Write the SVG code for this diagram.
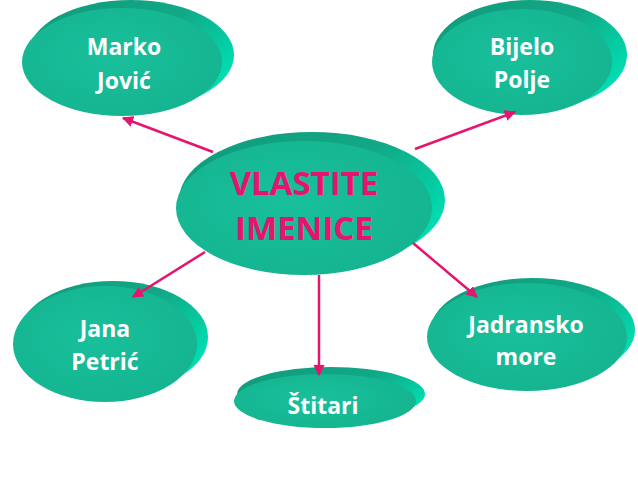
<svg xmlns="http://www.w3.org/2000/svg" width="638" height="479" viewBox="0 0 638 479">
<defs>
<linearGradient id="rimG" x1="0" y1="0" x2="1" y2="0.6">
<stop offset="0" stop-color="#0f9a7b"/>
<stop offset="0.6" stop-color="#12a886"/>
<stop offset="1" stop-color="#00dcb0"/>
</linearGradient>
<radialGradient id="faceG" cx="0.45" cy="0.45" r="0.6">
<stop offset="0" stop-color="#18c09b"/>
<stop offset="1" stop-color="#15b490"/>
</radialGradient>
<marker id="ah" viewBox="0 0 10 10" refX="9" refY="5" markerWidth="4.5" markerHeight="4.5" orient="auto" markerUnits="strokeWidth">
<path d="M0,0 L10,5 L0,10 z" fill="#e6146e"/>
</marker>
<style>
.rim{fill:url(#rimG)}
.face{fill:url(#faceG)}
.lbl{font-family:"Open Sans","Noto Sans",sans-serif;font-weight:bold;font-size:23px;fill:#ffffff;text-anchor:middle}
.main{font-family:"Open Sans","Noto Sans",sans-serif;font-weight:bold;font-size:33px;fill:#e6146e;text-anchor:middle}
.con{stroke:#e6146e;stroke-width:2.5;fill:none;marker-end:url(#ah)}
</style>
</defs>
<rect width="638" height="479" fill="#ffffff"/>
<g id="marko">
<ellipse class="rim" cx="131" cy="55" rx="103" ry="55"/>
<ellipse class="face" cx="122" cy="62" rx="100" ry="54"/>
<text class="lbl" x="124" y="55">Marko</text>
<text class="lbl" x="124" y="89">Jović</text>
</g>
<g id="bijelo">
<ellipse class="rim" cx="530" cy="55" rx="97" ry="55"/>
<ellipse class="face" cx="522" cy="62" rx="90" ry="53"/>
<text class="lbl" x="522" y="55">Bijelo</text>
<text class="lbl" x="522" y="88">Polje</text>
</g>
<g id="center">
<ellipse class="rim" cx="312" cy="200" rx="133" ry="68"/>
<ellipse class="face" cx="304" cy="208" rx="128" ry="67"/>
<text class="main" x="304" y="195">VLASTITE</text>
<text class="main" x="304" y="240">IMENICE</text>
</g>
<g id="jana">
<ellipse class="rim" cx="113" cy="337" rx="95" ry="56"/>
<ellipse class="face" cx="105" cy="344" rx="92" ry="58"/>
<text class="lbl" x="105" y="337">Jana</text>
<text class="lbl" x="105" y="370">Petrić</text>
</g>
<g id="jadransko">
<ellipse class="rim" cx="533" cy="330" rx="102" ry="52"/>
<ellipse class="face" cx="527" cy="337" rx="100" ry="54"/>
<text class="lbl" x="526" y="333">Jadransko</text>
<text class="lbl" x="526" y="365">more</text>
</g>
<g id="stitari">
<ellipse class="rim" cx="331" cy="394" rx="94" ry="27"/>
<ellipse class="face" cx="325" cy="401" rx="91" ry="27"/>
<text class="lbl" x="323" y="414">Štitari</text>
</g>
<g id="connectors">
<line class="con" x1="213" y1="152" x2="123" y2="118"/>
<line class="con" x1="415" y1="149" x2="515" y2="112"/>
<line class="con" x1="205" y1="252" x2="133" y2="297"/>
<line class="con" x1="413" y1="243" x2="477" y2="297"/>
<line class="con" x1="319" y1="275" x2="319" y2="375"/>
</g>
</svg>
